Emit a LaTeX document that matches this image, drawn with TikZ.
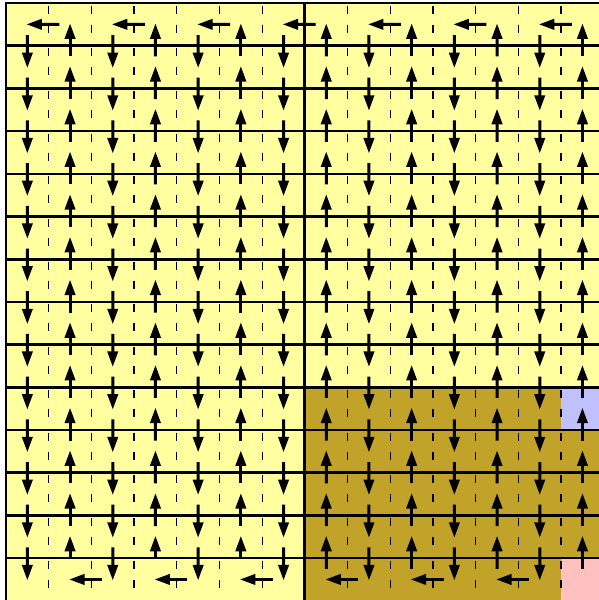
\documentclass[tikz,border=0pt]{standalone}
\usetikzlibrary{calc}
\definecolor{cellyellow}{RGB}{255,255,160}
\definecolor{cellolive}{RGB}{193,163,41}
\definecolor{cellblue}{RGB}{192,192,255}
\definecolor{cellpink}{RGB}{255,192,192}
\newcommand\flowarrow[2]{%
  \draw[shaft] (#1) -- ($(#2)!12pt!(#1)$);
  \fill ($(#2)!-0.5pt!(#1)$) -- ($($(#2)!14.5pt!(#1)$)!5.6pt!90:(#2)$)
        -- ($($(#2)!14.5pt!(#1)$)!5.6pt!-90:(#2)$) -- cycle;}
\begin{document}
\begin{tikzpicture}[x=1pt,y=-1pt,
  shaft/.style={line width=3pt},
  gridline/.style={line width=2.6pt},
  panelline/.style={line width=3pt},
  sepline/.style={line width=1.3pt,dash pattern=on 8pt off 11pt}]
\useasboundingbox (0,0) rectangle (599,600);
\clip (0,0) rectangle (599,600);
\def\s{42.7}
% fills
\fill[cellyellow] (6,3) rectangle (603.9,600.8);
\fill[cellolive] (304.9,387.3) rectangle (603.9,600.8);
\fill[cellblue] (561.1,387.3) rectangle (603.9,430);
\fill[cellpink] (561.1,558.1) rectangle (603.9,600.8);
% cell centres
\foreach \i in {1,...,14}{
  \foreach \j in {1,...,14}{
    \coordinate (c-\i-\j) at ({6+(\i-0.5)*\s},{3+(\j-0.5)*\s});
  }
}
% dashed column separators
\foreach \i in {1,...,13}{
  \ifnum\i=7\else
    \foreach \j in {0,...,13}{
      \draw[sepline] ({6+\i*\s},{3+\j*\s+2.5}) -- ++(0,28.5);
    }
  \fi
}
% row lines
\foreach \j in {1,...,13}{
  \draw[gridline] (6,{3+\j*\s}) -- (603.9,{3+\j*\s});
}
\draw[gridline] (6,3) rectangle (603.9,600.8);
\draw[panelline] (304.9,3) -- (304.9,600.8);
% down columns
\foreach \i in {1,3,...,13}{
  \foreach \j in {1,...,13}{
    \pgfmathtruncatemacro{\k}{\j+1}
    \coordinate (st) at ($(c-\i-\j)!0.25!(c-\i-\k)$);
    \flowarrow{st}{c-\i-\k}
  }
}
% up columns
\foreach \i in {2,4,...,14}{
  \foreach \j in {1,...,13}{
    \pgfmathtruncatemacro{\k}{\j+1}
    \pgfmathsetmacro{\f}{(\k==14 && \i<7) ? 0.5 : 0.25}
    \coordinate (st) at ($(c-\i-\k)!\f!(c-\i-\j)$);
    \flowarrow{st}{c-\i-\j}
  }
}
% top row turns
\foreach \m in {1,...,7}{
  \pgfmathtruncatemacro{\a}{2*\m}
  \pgfmathtruncatemacro{\b}{2*\m-1}
  \coordinate (st) at ($(c-\a-1)!0.25!(c-\b-1)$);
  \flowarrow{st}{c-\b-1}
}
% bottom row turns
\foreach \m in {1,...,6}{
  \pgfmathtruncatemacro{\a}{2*\m+1}
  \pgfmathtruncatemacro{\b}{2*\m}
  \coordinate (st) at ($(c-\a-14)!0.25!(c-\b-14)$);
  \flowarrow{st}{c-\b-14}
}
\end{tikzpicture}
\end{document}
